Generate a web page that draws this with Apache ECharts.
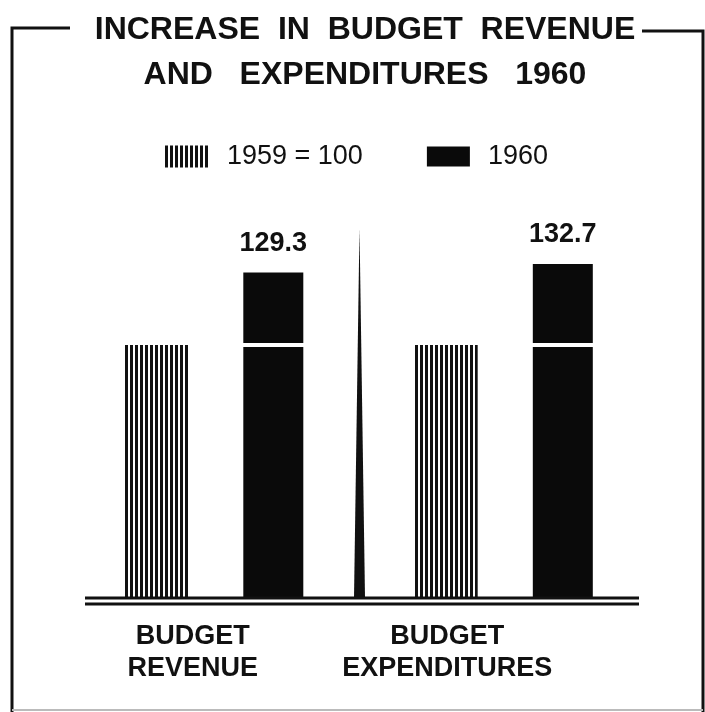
<!DOCTYPE html>
<html>
<head>
<meta charset="utf-8">
<title>Increase in budget revenue and expenditures 1960</title>
<script src="https://cdn.jsdelivr.net/npm/echarts@6/dist/echarts.min.js"></script>
<style>
  html, body { margin: 0; padding: 0; background: #fff; }
  #main { width: 705px; height: 712px; }
</style>
</head>
<body>
<div id="main"></div>
<script>
// data
var categories = ['BUDGET\nREVENUE', 'BUDGET\nEXPENDITURES'];
var index1959 = [100, 100];        // 1959 = 100
var values1960 = [129.3, 132.7];
var legendNames = ['1959 = 100', '1960'];

// 1960 bar is drawn as two stacked parts so a white line shows the 100 level
var upper1960 = values1960.map(function (v, i) { return +(v - index1959[i]).toFixed(1); });

// vertical stripes for the 1959 bars
var stripe = document.createElement('canvas');
stripe.width = 5;
stripe.height = 10;
var sctx = stripe.getContext('2d');
sctx.fillStyle = '#fff';
sctx.fillRect(0, 0, 5, 10);
sctx.fillStyle = '#111';
sctx.fillRect(0, 0, 3, 10);

var chart = echarts.init(document.getElementById('main'));

var boldFont = '"Liberation Sans", Arial, sans-serif';

var option = {
    backgroundColor: '#fff',
    animation: false,
    title: {
        text: 'INCREASE  IN  BUDGET  REVENUE\nAND   EXPENDITURES   1960',
        left: 360,
        top: 3,
        textAlign: 'center',
        textStyle: {
            fontFamily: boldFont,
            fontWeight: 'bold',
            fontSize: 32,
            lineHeight: 45,
            color: '#111'
        }
    },
    legend: {
        data: legendNames,
        left: 160,
        top: 138,
        itemWidth: 45,
        itemHeight: 22,
        itemGap: 62,
        icon: 'rect',
        selectedMode: false,
        textStyle: {
            fontFamily: '"Liberation Sans", Arial, sans-serif',
            fontSize: 27,
            color: '#111',
            padding: [0, 0, 0, 12]
        }
    },
    grid: {
        left: 70,
        right: 56,
        top: 218,
        bottom: 113
    },
    xAxis: {
        type: 'category',
        data: [
            { value: categories[0], textStyle: { padding: [0, 44, 0, 0] } },
            { value: categories[1], textStyle: { padding: [0, 114, 0, 0] } }
        ],
        axisLine: { show: false },
        axisTick: { show: false },
        axisLabel: {
            margin: 22,
            fontFamily: boldFont,
            fontWeight: 'bold',
            fontSize: 27,
            lineHeight: 32,
            color: '#111'
        }
    },
    yAxis: {
        type: 'value',
        min: 0,
        max: 150,
        show: false,
        splitLine: { show: false }
    },
    series: [
        {
            name: legendNames[0],
            type: 'bar',
            barWidth: 64,
            barGap: '83%',
            data: index1959,
            itemStyle: { color: { image: stripe, repeat: 'repeat' } }
        },
        {
            name: legendNames[1],
            type: 'bar',
            stack: 'y1960',
            barWidth: 64,
            data: index1959,
            itemStyle: { color: '#0a0a0a', borderColor: '#fff', borderWidth: 2 }
        },
        {
            name: legendNames[1],
            type: 'bar',
            stack: 'y1960',
            barWidth: 64,
            data: upper1960,
            itemStyle: { color: '#0a0a0a', borderColor: '#fff', borderWidth: 2 },
            label: {
                show: true,
                position: 'top',
                distance: 14,
                fontFamily: boldFont,
                fontWeight: 'bold',
                fontSize: 27,
                color: '#111',
                formatter: function (p) { return values1960[p.dataIndex].toFixed(1); }
            }
        }
    ],
    // frame, double base line and the centre divider
    graphic: [
        { type: 'polyline', shape: { points: [[70, 28], [12, 28], [12, 712]] },
          style: { stroke: '#111', lineWidth: 3, fill: null } },
        { type: 'polyline', shape: { points: [[642, 31], [703, 31], [703, 712]] },
          style: { stroke: '#111', lineWidth: 3, fill: null } },
        { type: 'line', shape: { x1: 12, y1: 710, x2: 703, y2: 710 },
          style: { stroke: '#bbb', lineWidth: 2 } },
        { type: 'line', shape: { x1: 85, y1: 598, x2: 639, y2: 598 },
          style: { stroke: '#111', lineWidth: 3 }, z: 10 },
        { type: 'line', shape: { x1: 85, y1: 604, x2: 639, y2: 604 },
          style: { stroke: '#111', lineWidth: 3 }, z: 10 },
        { type: 'polygon', shape: { points: [[354, 598], [359.5, 228], [365, 598]] },
          style: { fill: '#111' }, z: 10 }
    ]
};

chart.setOption(option);
</script>
</body>
</html>
